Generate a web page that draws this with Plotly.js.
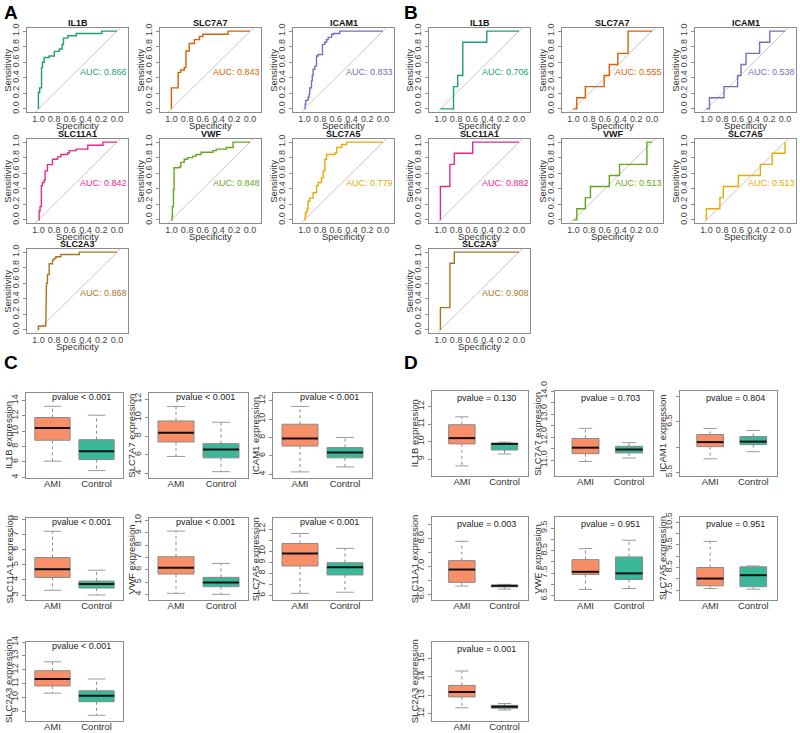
<!DOCTYPE html>
<html lang="en">
<head>
<meta charset="UTF-8">
<title>ROC curves and expression boxplots</title>
<script src="https://cdn.plot.ly/plotly-3.0.1.min.js"></script>
<style>
    body { margin: 0; background: #fff; }
    #chart { width: 800px; height: 733px; }
</style>
</head>
<body>
<div id="chart"></div>
<script>
    // genes, shown in this order in every panel
    var genes = ['IL1B', 'SLC7A7', 'ICAM1', 'SLC11A1', 'VWF', 'SLC7A5', 'SLC2A3'];
    var geneColors = ['#1B9E77', '#D95F02', '#7570B3', '#E7298A', '#66A61E', '#E6AB02', '#A6761D'];

    // AUC values printed on the ROC plots
    var aucA = [0.866, 0.843, 0.833, 0.842, 0.848, 0.779, 0.868];
    var aucB = [0.706, 0.555, 0.538, 0.882, 0.513, 0.513, 0.908];

    // ROC points (specificity, sensitivity), panel A
    var aIL1BSpec = [1, 1, 0.983, 0.983, 0.96, 0.96, 0.948, 0.948, 0.927, 0.927, 0.862, 0.862, 0.797, 0.797, 0.733, 0.733, 0.698, 0.698, 0.681, 0.681, 0.625, 0.625, 0.517, 0.517, 0.194, 0.194, 0];
    var aIL1BSens = [0, 0.21, 0.21, 0.27, 0.27, 0.53, 0.53, 0.6, 0.6, 0.66, 0.66, 0.68, 0.68, 0.74, 0.74, 0.77, 0.77, 0.83, 0.83, 0.91, 0.91, 0.94, 0.94, 0.97, 0.97, 1, 1];
    var aSLC7A7Spec = [1, 1, 0.914, 0.914, 0.88, 0.88, 0.837, 0.837, 0.815, 0.815, 0.773, 0.773, 0.708, 0.708, 0.644, 0.644, 0.601, 0.601, 0.279, 0.279, 0];
    var aSLC7A7Sens = [0, 0.27, 0.27, 0.47, 0.47, 0.5, 0.5, 0.53, 0.53, 0.745, 0.745, 0.84, 0.84, 0.89, 0.89, 0.93, 0.93, 0.96, 0.96, 1, 1];
    var aICAM1Spec = [1, 0.99, 0.99, 0.983, 0.983, 0.953, 0.953, 0.94, 0.94, 0.932, 0.932, 0.91, 0.91, 0.9, 0.9, 0.889, 0.889, 0.868, 0.868, 0.846, 0.846, 0.825, 0.825, 0.77, 0.77, 0.74, 0.74, 0.718, 0.718, 0.697, 0.697, 0.654, 0.654, 0.632, 0.632, 0.55, 0.55, 0];
    var aICAM1Sens = [0, 0, 0.06, 0.06, 0.11, 0.11, 0.15, 0.15, 0.19, 0.19, 0.27, 0.27, 0.36, 0.36, 0.43, 0.43, 0.51, 0.51, 0.55, 0.55, 0.68, 0.68, 0.7, 0.7, 0.83, 0.83, 0.86, 0.86, 0.89, 0.89, 0.92, 0.92, 0.96, 0.96, 0.97, 0.97, 1, 1];
    var aSLC11A1Spec = [1, 0.991, 0.991, 0.979, 0.979, 0.962, 0.962, 0.949, 0.949, 0.927, 0.927, 0.915, 0.915, 0.885, 0.885, 0.821, 0.821, 0.756, 0.756, 0.714, 0.714, 0.628, 0.628, 0.607, 0.607, 0.521, 0.521, 0.372, 0.372, 0.179, 0.179, 0];
    var aSLC11A1Sens = [0, 0, 0.115, 0.115, 0.17, 0.17, 0.44, 0.44, 0.48, 0.48, 0.51, 0.51, 0.63, 0.63, 0.71, 0.71, 0.78, 0.78, 0.81, 0.81, 0.84, 0.84, 0.86, 0.86, 0.89, 0.89, 0.91, 0.91, 0.96, 0.96, 1, 1];
    var aVWFSpec = [1, 0.99, 0.99, 0.987, 0.987, 0.974, 0.974, 0.966, 0.966, 0.901, 0.901, 0.88, 0.88, 0.837, 0.837, 0.794, 0.794, 0.73, 0.73, 0.687, 0.687, 0.622, 0.622, 0.472, 0.472, 0.429, 0.429, 0.3, 0.3, 0.215, 0.215, 0];
    var aVWFSens = [0, 0, 0.05, 0.05, 0.17, 0.17, 0.39, 0.39, 0.67, 0.67, 0.68, 0.68, 0.74, 0.74, 0.78, 0.78, 0.8, 0.8, 0.82, 0.82, 0.84, 0.84, 0.87, 0.87, 0.89, 0.89, 0.91, 0.91, 0.93, 0.93, 1, 1];
    var aSLC7A5Spec = [1, 0.99, 0.99, 0.983, 0.983, 0.965, 0.965, 0.953, 0.953, 0.932, 0.932, 0.889, 0.889, 0.846, 0.846, 0.825, 0.825, 0.782, 0.782, 0.761, 0.761, 0.739, 0.739, 0.718, 0.718, 0.611, 0.611, 0.59, 0.59, 0.526, 0.526, 0.462, 0.462, 0];
    var aSLC7A5Sens = [0, 0, 0.05, 0.05, 0.1, 0.1, 0.14, 0.14, 0.24, 0.24, 0.28, 0.28, 0.35, 0.35, 0.44, 0.44, 0.48, 0.48, 0.54, 0.54, 0.63, 0.63, 0.78, 0.78, 0.84, 0.84, 0.86, 0.86, 0.93, 0.93, 0.97, 0.97, 1, 1];
    var aSLC2A3Spec = [1, 1, 0.906, 0.906, 0.897, 0.897, 0.885, 0.885, 0.863, 0.863, 0.82, 0.82, 0.8, 0.8, 0.778, 0.778, 0.714, 0.714, 0.479, 0.479, 0];
    var aSLC2A3Sens = [0, 0.05, 0.05, 0.06, 0.06, 0.6, 0.6, 0.71, 0.71, 0.85, 0.85, 0.9, 0.9, 0.92, 0.92, 0.94, 0.94, 0.97, 0.97, 1, 1];

    // ROC points, panel B
    var bIL1BSpec = [1, 0.833, 0.833, 0.78, 0.78, 0.715, 0.715, 0.41, 0.41, 0];
    var bIL1BSens = [0, 0, 0.286, 0.286, 0.429, 0.429, 0.857, 0.857, 1, 1];
    var bSLC7A7Spec = [1, 0.957, 0.957, 0.848, 0.848, 0.609, 0.609, 0.543, 0.543, 0.435, 0.435, 0.304, 0.304, 0];
    var bSLC7A7Sens = [0, 0, 0.143, 0.143, 0.286, 0.286, 0.429, 0.429, 0.571, 0.571, 0.714, 0.714, 1, 1];
    var bICAM1Spec = [1, 0.961, 0.961, 0.776, 0.776, 0.603, 0.603, 0.56, 0.56, 0.496, 0.496, 0.323, 0.323, 0.194, 0.194, 0];
    var bICAM1Sens = [0, 0, 0.143, 0.143, 0.286, 0.286, 0.429, 0.429, 0.571, 0.571, 0.714, 0.714, 0.857, 0.857, 1, 1];
    var bSLC11A1Spec = [1, 1, 0.879, 0.879, 0.823, 0.823, 0.589, 0.589, 0];
    var bSLC11A1Sens = [0, 0.429, 0.429, 0.714, 0.714, 0.857, 0.857, 1, 1];
    var bVWFSpec = [1, 0.957, 0.957, 0.848, 0.848, 0.783, 0.783, 0.543, 0.543, 0.413, 0.413, 0.065, 0.065, 0];
    var bVWFSens = [0, 0, 0.143, 0.143, 0.286, 0.286, 0.429, 0.429, 0.571, 0.571, 0.714, 0.714, 1, 1];
    var bSLC7A5Spec = [1, 1, 0.828, 0.828, 0.785, 0.785, 0.592, 0.592, 0.313, 0.313, 0.163, 0.163, 0, 0];
    var bSLC7A5Sens = [0, 0.143, 0.143, 0.286, 0.286, 0.429, 0.429, 0.571, 0.571, 0.714, 0.714, 0.857, 0.857, 1];
    var bSLC2A3Spec = [1, 1, 0.879, 0.879, 0.823, 0.823, 0];
    var bSLC2A3Sens = [0, 0.286, 0.286, 0.857, 0.857, 1, 1];

    var rocSpecA = [aIL1BSpec, aSLC7A7Spec, aICAM1Spec, aSLC11A1Spec, aVWFSpec, aSLC7A5Spec, aSLC2A3Spec];
    var rocSensA = [aIL1BSens, aSLC7A7Sens, aICAM1Sens, aSLC11A1Sens, aVWFSens, aSLC7A5Sens, aSLC2A3Sens];
    var rocSpecB = [bIL1BSpec, bSLC7A7Spec, bICAM1Spec, bSLC11A1Spec, bVWFSpec, bSLC7A5Spec, bSLC2A3Spec];
    var rocSensB = [bIL1BSens, bSLC7A7Sens, bICAM1Sens, bSLC11A1Sens, bVWFSens, bSLC7A5Sens, bSLC2A3Sens];

    // boxplot groups
    var groups = ['AMI', 'Control'];
    var groupColors = ['#F98F69', '#3BB899'];

    // panel C box statistics (min, q1, median, q3, max), one value per gene
    var cAmiMin = [6.1, 5.82, 4.26, 3.31, 4.08, 6.2, 10.31];
    var cAmiQ1 = [8.83, 7.38, 7.07, 4.16, 5.65, 8.67, 10.83];
    var cAmiMed = [10.43, 8.36, 7.9, 4.71, 6.16, 9.8, 11.33];
    var cAmiQ3 = [11.8, 9.64, 9.44, 5.48, 7.05, 10.7, 11.93];
    var cAmiMax = [13.26, 11.2, 11.37, 7.21, 9.14, 11.6, 12.57];
    var cCtlMin = [4.87, 4.18, 4.8, 3.0, 4.0, 6.3, 8.71];
    var cCtlQ1 = [6.3, 5.67, 5.79, 3.46, 4.62, 7.86, 9.69];
    var cCtlMed = [7.4, 6.58, 6.37, 3.72, 4.97, 8.55, 10.12];
    var cCtlQ3 = [8.9, 7.2, 6.9, 3.92, 5.38, 8.97, 10.48];
    var cCtlMax = [12.1, 9.5, 8.0, 4.64, 6.51, 10.26, 11.33];
    var pvalC = ['pvalue < 0.001', 'pvalue < 0.001', 'pvalue < 0.001', 'pvalue < 0.001', 'pvalue < 0.001', 'pvalue < 0.001', 'pvalue < 0.001'];

    // panel D box statistics
    var dAmiMin = [8.61, 10.94, 5.77, 6.3, 6.78, 7.57, 12.32];
    var dAmiQ1 = [9.87, 11.28, 6.01, 6.43, 7.44, 7.69, 12.91];
    var dAmiMed = [10.2, 11.54, 6.1, 6.89, 7.56, 8.01, 13.18];
    var dAmiQ3 = [10.97, 11.94, 6.25, 7.21, 8.1, 8.5, 13.54];
    var dAmiMax = [11.42, 12.38, 6.37, 7.9, 8.59, 9.66, 14.32];
    var dCtlMin = [9.29, 11.09, 5.91, 6.19, 6.82, 7.54, 12.2];
    var dCtlQ1 = [9.52, 11.31, 6.05, 6.27, 7.22, 7.65, 12.29];
    var dCtlMed = [9.87, 11.46, 6.11, 6.31, 7.49, 8.16, 12.38];
    var dCtlQ3 = [9.91, 11.6, 6.21, 6.33, 8.22, 8.53, 12.45];
    var dCtlMax = [9.97, 11.76, 6.33, 6.36, 8.96, 8.57, 12.55];
    var pvalD = ['pvalue = 0.130', 'pvalue = 0.703', 'pvalue = 0.804', 'pvalue = 0.003', 'pvalue = 0.951', 'pvalue = 0.951', 'pvalue = 0.001'];

    // y tick values of the boxplots
    var cTicks = [[4, 6, 8, 10, 12, 14], [4, 6, 8, 10, 12], [4, 6, 8, 10, 12], [3, 4, 5, 6, 7, 8], [4, 5, 6, 7, 8, 9, 10], [6, 7, 8, 9, 10, 11, 12], [9, 10, 11, 12, 13, 14]];
    var dTicks = [[9, 10, 11, 12], [11, 11.5, 12, 12.5, 13, 13.5, 14], [5.5, 6, 6.5, 7], [6, 6.5, 7, 7.5, 8, 8.5], [6.5, 7, 7.5, 8, 8.5, 9, 9.5], [7.5, 8, 8.5, 9, 9.5, 10, 10.5], [12, 13, 14, 15]];

    // ---- layout geometry (pixels) ----
    var W = 800, H = 733;
    var FONT = 'Arial, "Liberation Sans", sans-serif';
    var FRAME = '#8c8c8c';

    var rocCols = { A: [27, 160, 293], B: [429, 562, 695] };
    var rocTops = [28, 139, 249];
    var rocW = 101, rocH = 84;
    var rocXRange = [1.145, -0.14], rocYRange = [-0.04, 1.04];

    var boxCols = { C: [[26, 123], [149, 248], [273, 372]], D: [[432, 528], [555, 653], [680, 777]] };
    var boxRows = { C: [[393, 478], [518, 600], [642, 721]], D: [[391, 476], [517, 600], [642, 721]] };
    var boxYRange = {
        C: [[3.9, 15.0], [3.5, 12.65], [3.6, 12.83], [2.67, 8.09], [3.54, 10.2], [5.6, 13.0], [8.3, 14.0]],
        D: [[8.03, 12.9], [10.31, 14.0], [5.43, 7.11], [5.8, 8.77], [6.31, 9.99], [7.06, 10.74], [11.6, 15.9]]
    };
    var boxXRange = { C: [0.4, 2.6], D: [0.3, 2.55] };
    var boxWidth = { C: 0.8, D: 0.62 };

    function xd(a, b) { return [a / W, b / W]; }
    function yd(top, bottom) { return [1 - bottom / H, 1 - top / H]; }
    function fmt1(v) { return v.toFixed(1); }

    var traces = [];
    var annotations = [];
    var layout = {
        width: W, height: H,
        margin: { l: 0, r: 0, t: 0, b: 0 },
        showlegend: false,
        hovermode: false,
        paper_bgcolor: '#ffffff',
        plot_bgcolor: '#ffffff',
        font: { family: FONT, size: 9, color: '#333333' }
    };

    function baseAxis(dom) {
        return {
            domain: dom, showline: true, mirror: true, linecolor: FRAME, linewidth: 1,
            ticks: 'outside', ticklen: 3, tickcolor: FRAME, tickwidth: 1,
            showgrid: false, zeroline: false, fixedrange: true,
            tickfont: { family: FONT, size: 9, color: '#444444' }
        };
    }

    function note(n, x, y, text, extra) {
        var a = {
            xref: 'x' + n + ' domain', yref: 'y' + n + ' domain', x: x, y: y,
            text: text, showarrow: false, font: { family: FONT, size: 9, color: '#333333' }
        };
        for (var k in extra) a[k] = extra[k];
        annotations.push(a);
    }

    var axisN = 0;

    function addRoc(panel, i, spec, sens, auc) {
        axisN += 1;
        var n = axisN;
        var c = rocCols[panel][i % 3], t = rocTops[Math.floor(i / 3)];
        var ticks = [1, 0.8, 0.6, 0.4, 0.2, 0];

        var xax = baseAxis(xd(c, c + rocW));
        xax.range = rocXRange;
        xax.tickvals = ticks;
        xax.ticktext = ticks.map(fmt1);
        xax.ticks = '';
        xax.ticklabelstandoff = -2;
        xax.anchor = 'y' + n;
        var yax = baseAxis(yd(t, t + rocH));
        yax.range = rocYRange;
        yax.tickvals = ticks;
        yax.ticktext = ticks.map(fmt1);
        yax.tickangle = -90;
        yax.anchor = 'x' + n;
        layout['xaxis' + n] = xax;
        layout['yaxis' + n] = yax;

        // chance diagonal across the plot region
        traces.push({
            x: [1 - rocYRange[0], 1 - rocYRange[1]], y: rocYRange,
            xaxis: 'x' + n, yaxis: 'y' + n, type: 'scatter', mode: 'lines',
            line: { color: '#c8c8c8', width: 1 }
        });
        traces.push({
            x: spec, y: sens, xaxis: 'x' + n, yaxis: 'y' + n, type: 'scatter', mode: 'lines',
            line: { color: geneColors[i], width: 1.4 }
        });

        note(n, 0.5, 1, '<b>' + genes[i] + '</b>', { yanchor: 'middle', yshift: 5, font: { family: FONT, size: 9, color: '#111111' } });
        note(n, 0.5, 0, 'Specificity', { yanchor: 'top', yshift: -6, font: { family: FONT, size: 9.5, color: '#333333' } });
        note(n, -0.2, 0.5, 'Sensitivity', { xanchor: 'center', textangle: -90, font: { family: FONT, size: 9.5, color: '#333333' } });
        annotations.push({
            xref: 'x' + n, yref: 'y' + n, x: 0.5, y: 0.47, xanchor: 'left', yanchor: 'middle',
            text: 'AUC: ' + auc.toFixed(3), showarrow: false,
            font: { family: FONT, size: 9, color: geneColors[i] }
        });
    }

    function addBox(panel, i, amiStats, ctlStats, ticks, pval) {
        axisN += 1;
        var n = axisN;
        var cols = boxCols[panel][i % 3], rows = boxRows[panel][Math.floor(i / 3)];
        var w = boxWidth[panel], cap = w * 0.25;

        var xax = baseAxis(xd(cols[0], cols[1]));
        xax.range = boxXRange[panel];
        xax.tickvals = [1, 2];
        xax.ticktext = groups;
        xax.ticks = '';
        xax.ticklabelstandoff = -3;
        xax.anchor = 'y' + n;
        xax.tickfont = { family: FONT, size: 9.5, color: '#333333' };
        var yax = baseAxis(yd(rows[0], rows[1]));
        yax.range = boxYRange[panel][i];
        yax.tickvals = ticks;
        var step = ticks[1] - ticks[0];
        var oneDecimal = panel === 'D' && genes[i] === 'SLC7A7';
        yax.ticktext = ticks.map(function (v, k) {
            if (step === 0.5 || oneDecimal) return k % 2 === 0 ? fmt1(v) : '';
            if (panel === 'C' && genes[i] === 'SLC7A5' && v === 11) return '';
            return String(v);
        });
        yax.tickangle = -90;
        yax.anchor = 'x' + n;
        layout['xaxis' + n] = xax;
        layout['yaxis' + n] = yax;

        var stats = [amiStats, ctlStats];
        var whX = [], whY = [], capX = [], capY = [], medX = [], medY = [];
        stats.forEach(function (s, g) {
            var xc = g + 1;
            traces.push({
                type: 'box', x: [xc], q1: [s[1]], median: [s[2]], q3: [s[3]],
                lowerfence: [s[1]], upperfence: [s[3]],
                width: w, whiskerwidth: 0, boxpoints: false,
                fillcolor: groupColors[g], line: { color: '#8a8a8a', width: 1 },
                xaxis: 'x' + n, yaxis: 'y' + n
            });
            whX.push(xc, xc, null, xc, xc, null);
            whY.push(s[3], s[4], null, s[1], s[0], null);
            capX.push(xc - cap, xc + cap, null, xc - cap, xc + cap, null);
            capY.push(s[4], s[4], null, s[0], s[0], null);
            medX.push(xc - w / 2, xc + w / 2, null);
            medY.push(s[2], s[2], null);
        });
        traces.push({ x: whX, y: whY, xaxis: 'x' + n, yaxis: 'y' + n, type: 'scatter', mode: 'lines',
            line: { color: '#8a8a8a', width: 1, dash: 'dot' } });
        traces.push({ x: capX, y: capY, xaxis: 'x' + n, yaxis: 'y' + n, type: 'scatter', mode: 'lines',
            line: { color: '#9a9a9a', width: 1 } });
        traces.push({ x: medX, y: medY, xaxis: 'x' + n, yaxis: 'y' + n, type: 'scatter', mode: 'lines',
            line: { color: '#111111', width: 2 } });

        note(n, -0.18, 0.5, genes[i] + ' expression', { xanchor: 'center', textangle: -90, font: { family: FONT, size: 9.5, color: '#333333' } });
        note(n, 0.57, panel === 'C' ? 0.955 : 0.915, pval, { yanchor: 'middle', font: { family: FONT, size: 9, color: '#222222' } });
    }

    for (var i = 0; i < genes.length; i++) addRoc('A', i, rocSpecA[i], rocSensA[i], aucA[i]);
    for (var i = 0; i < genes.length; i++) addRoc('B', i, rocSpecB[i], rocSensB[i], aucB[i]);
    for (var i = 0; i < genes.length; i++) {
        addBox('C', i,
            [cAmiMin[i], cAmiQ1[i], cAmiMed[i], cAmiQ3[i], cAmiMax[i]],
            [cCtlMin[i], cCtlQ1[i], cCtlMed[i], cCtlQ3[i], cCtlMax[i]],
            cTicks[i], pvalC[i]);
    }
    for (var i = 0; i < genes.length; i++) {
        addBox('D', i,
            [dAmiMin[i], dAmiQ1[i], dAmiMed[i], dAmiQ3[i], dAmiMax[i]],
            [dCtlMin[i], dCtlQ1[i], dCtlMed[i], dCtlQ3[i], dCtlMax[i]],
            dTicks[i], pvalD[i]);
    }

    // panel letters
    [['A', 2, 0], ['B', 402, 0], ['C', 2, 350], ['D', 402, 350]].forEach(function (p) {
        annotations.push({
            xref: 'paper', yref: 'paper', x: p[1] / W, y: 1 - p[2] / H,
            xanchor: 'left', yanchor: 'top', text: '<b>' + p[0] + '</b>', showarrow: false,
            font: { family: FONT, size: 19, color: '#000000' }
        });
    });

    layout.annotations = annotations;
    Plotly.newPlot('chart', traces, layout, { staticPlot: true, displayModeBar: false });
</script>
</body>
</html>
